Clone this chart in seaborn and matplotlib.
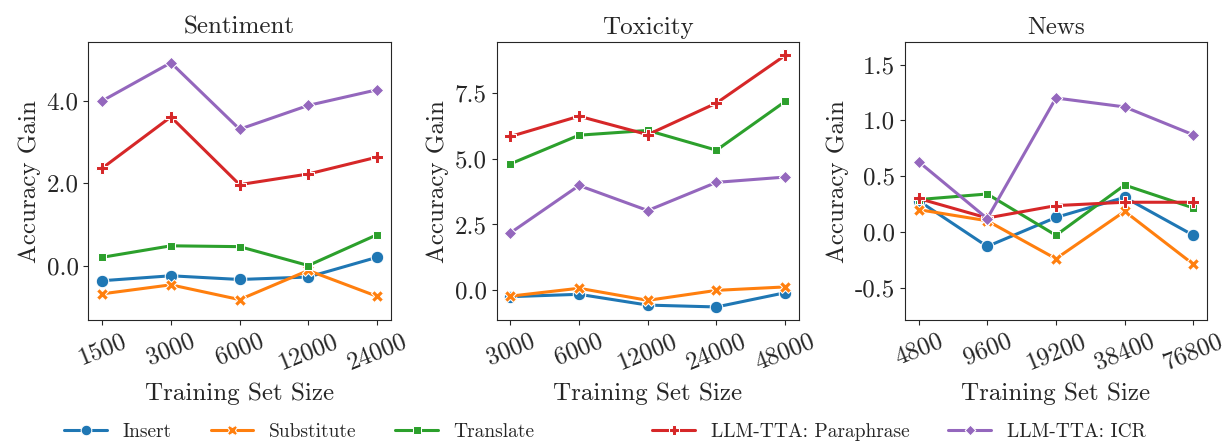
import numpy as np
import pandas as pd
import matplotlib
matplotlib.use("Agg")
import matplotlib.pyplot as plt
import matplotlib.ticker as mticker
import seaborn as sns

# values
methods = ["Insert", "Substitute", "Translate", "LLM-TTA: Paraphrase", "LLM-TTA: ICR"]

sent_sizes = ["1500", "3000", "6000", "12000", "24000"]
sent_insert = [-0.37, -0.25, -0.34, -0.28, 0.20]
sent_subst = [-0.69, -0.47, -0.83, -0.12, -0.75]
sent_transl = [0.20, 0.48, 0.46, 0.00, 0.75]
sent_para = [2.37, 3.62, 1.97, 2.23, 2.64]
sent_icr = [4.01, 4.94, 3.32, 3.90, 4.28]

tox_sizes = ["3000", "6000", "12000", "24000", "48000"]
tox_insert = [-0.24, -0.15, -0.56, -0.63, -0.09]
tox_subst = [-0.22, 0.08, -0.38, 0.00, 0.13]
tox_transl = [4.80, 5.89, 6.07, 5.32, 7.17]
tox_para = [5.84, 6.61, 5.91, 7.11, 8.92]
tox_icr = [2.18, 3.98, 3.03, 4.10, 4.30]

news_sizes = ["4800", "9600", "19200", "38400", "76800"]
news_insert = [0.28, -0.13, 0.13, 0.31, -0.03]
news_subst = [0.20, 0.10, -0.24, 0.185, -0.29]
news_transl = [0.29, 0.34, -0.03, 0.42, 0.215]
news_para = [0.30, 0.125, 0.236, 0.266, 0.266]
news_icr = [0.63, 0.12, 1.20, 1.12, 0.87]

sent_yticks = [0.0, 2.0, 4.0]
tox_yticks = [0.0, 2.5, 5.0, 7.5]
news_yticks = [-0.5, 0.0, 0.5, 1.0, 1.5]


def make_df(sizes, series):
    rows = []
    for name, vals in zip(methods, series):
        for s, v in zip(sizes, vals):
            rows.append({"size": s, "gain": v, "method": name})
    return pd.DataFrame(rows)


panels = [
    ("Sentiment", make_df(sent_sizes, [sent_insert, sent_subst, sent_transl, sent_para, sent_icr]), sent_yticks),
    ("Toxicity", make_df(tox_sizes, [tox_insert, tox_subst, tox_transl, tox_para, tox_icr]), tox_yticks),
    ("News", make_df(news_sizes, [news_insert, news_subst, news_transl, news_para, news_icr]), news_yticks),
]

sns.set_style("ticks")
plt.rcParams["font.family"] = "serif"
plt.rcParams["font.serif"] = ["cmr10", "DejaVu Serif"]
plt.rcParams["mathtext.fontset"] = "cm"
plt.rcParams["axes.unicode_minus"] = False
plt.rcParams["axes.formatter.use_mathtext"] = True

fig, axes = plt.subplots(1, 3, figsize=(12.28, 4.44), dpi=100)
fig.subplots_adjust(left=0.072, right=0.983, top=0.905, bottom=0.279, wspace=0.35)

for ax, (title, df, yt) in zip(axes, panels):
    sns.lineplot(data=df, x="size", y="gain", hue="method", style="method",
                 markers=True, dashes=False, hue_order=methods, style_order=methods,
                 linewidth=2.2, markersize=9, ax=ax)
    ax.set_title(title, fontsize=18)
    ax.set_xlabel("Training Set Size", fontsize=18, labelpad=6)
    ax.set_ylabel("Accuracy Gain", fontsize=18)
    ax.set_ylim(df["gain"].min() - 0.5, df["gain"].max() + 0.5)
    ax.set_yticks(yt)
    ax.yaxis.set_major_formatter(mticker.FormatStrFormatter("%.1f"))
    ax.tick_params(axis="both", labelsize=18)
    for lab in ax.get_xticklabels():
        lab.set_rotation(22)
        lab.set_ha("center")
    handles, labels = ax.get_legend_handles_labels()
    ax.get_legend().remove()

leg_kw = dict(frameon=False, fontsize=14, markerscale=0.85, handlelength=2.2,
              handletextpad=0.8, columnspacing=2.0, borderaxespad=0.0)
leg1 = fig.legend(handles[:3], labels[:3], loc="center left",
                  bbox_to_anchor=(0.046, 0.027), ncol=3, **leg_kw)
fig.legend(handles[3:], labels[3:], loc="center left",
           bbox_to_anchor=(0.525, 0.027), ncol=2, **leg_kw)

fig.savefig("out.png", dpi=100)
